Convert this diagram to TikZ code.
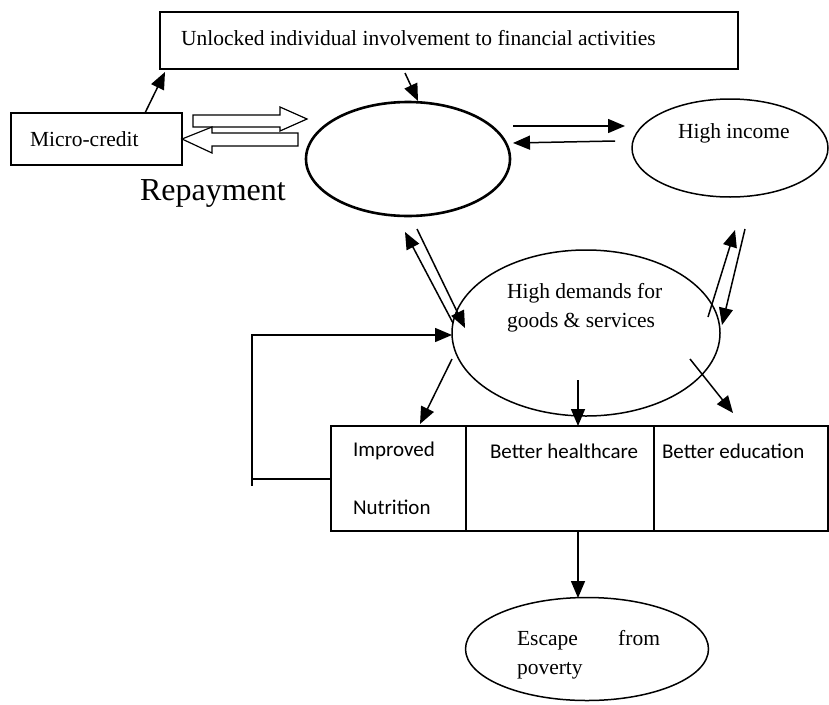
\documentclass[tikz,border=0pt]{standalone}
\usepackage{fontspec}
\setmainfont{Liberation Serif}
\newfontfamily\boxfont{Carlito}
\usetikzlibrary{shapes.geometric,arrows.meta,calc}

\begin{document}
\begin{tikzpicture}[x=1pt,y=-1pt,
  line width=1.5pt,
  every node/.style={inner sep=0pt, outer sep=0pt},
  arr/.style={-{Triangle[length=17pt,width=14pt]}},
  txt/.style={font=\fontsize{21.5}{29}\selectfont, align=left},
  cell/.style={draw, line width=1.5pt, anchor=north west, minimum height=105pt},
  celltxt/.style={font=\boxfont\fontsize{21}{24}\selectfont, anchor=west},
  oval/.style={draw, ellipse, line width=1.5pt}]
\useasboundingbox (0,0) rectangle (829,704);

% boxes
\node[draw, anchor=north west, minimum width=578pt, minimum height=57pt] (top) at (160,12) {};
\node[txt, anchor=west] at (181,38) {Unlocked individual involvement to financial activities};
\node[draw, anchor=north west, minimum width=171pt, minimum height=52pt] (mc) at (11,113) {};
\node[txt, anchor=west] at (30,139) {Micro-credit};

% ovals
\node[oval, line width=2.6pt, minimum width=204pt, minimum height=114pt] (mid) at (408,159) {};
\node[oval, minimum width=196pt, minimum height=98pt] (inc) at (730,148) {};
\node[txt, anchor=west] at (678,133) {High income};
\node[oval, minimum width=268pt, minimum height=166pt] (dem) at (586,333) {};
\node[txt, anchor=west] at (507,308) {High demands for\\goods \& services};
\node[oval, minimum width=243pt, minimum height=103pt] (esc) at (587,649) {};
\node[txt, anchor=west] at (517,655) {\makebox[143pt][l]{Escape\hfill from}\\poverty};

\node[font=\fontsize{32}{34}\selectfont, anchor=west] (rep) at (140,193) {Repayment};

% outcome cells
\node[cell, minimum width=135pt] (nut) at (331,426) {};
\node[cell, minimum width=188pt] (hc) at (466,426) {};
\node[cell, minimum width=174pt] (edu) at (654,426) {};
\node[celltxt] at (353,451) {Improved};
\node[celltxt] at (353,507) {Nutrition};
\node[celltxt] at (490,451) {Better healthcare};
\node[celltxt] at (662,451) {Better education};

% connector end points
\coordinate (mcA) at (145,113);
\coordinate (topA) at (165,72);
\coordinate (topB) at (405,73);
\coordinate (midB) at (418,101);
\coordinate (m1) at (513,126);  \coordinate (i1) at (625,126);
\coordinate (i2) at (615,141);  \coordinate (m2) at (513,143);
\coordinate (d1) at (453,323);  \coordinate (m3) at (405,232);
\coordinate (m4) at (417,229);  \coordinate (d2) at (465,328);
\coordinate (d3) at (708,317);  \coordinate (i3) at (735,230);
\coordinate (i4) at (745,229);  \coordinate (d4) at (722,325);
\coordinate (d5) at (452,359);  \coordinate (n1) at (420,424);
\coordinate (d6) at (578,380);  \coordinate (h1) at (578,426);
\coordinate (d7) at (690,359);  \coordinate (e1) at (733,413);
\coordinate (h2) at (578,531);  \coordinate (e2) at (578,598);
\coordinate (fbA) at (331,479);
\coordinate (fbB) at (252,479);
\coordinate (fbC) at (252,335);
\coordinate (fbD) at (452,335);

\draw[arr] (mcA) -- (topA);
\draw[arr] (topB) -- (midB);
\draw[arr] (m1) -- (i1);
\draw[arr] (i2) -- (m2);
\draw[arr] (d1) -- (m3);
\draw[arr] (m4) -- (d2);
\draw[arr] (d3) -- (i3);
\draw[arr] (i4) -- (d4);
\draw[arr] (d5) -- (n1);
\draw[arr] (d6) -- (h1);
\draw[arr] (d7) -- (e1);
\draw[arr] (h2) -- (e2);
\draw[arr] (fbA) -- (fbB) -- (fbC) -- (fbD);
\draw (fbB) -- ++(0,7);

% hollow block arrows between micro-credit and the centre oval
\draw[line width=1.2pt] (193,115) -- (280,115) -- (280,107) -- (307,119) -- (280,131) -- (280,127) -- (193,127) -- cycle;
\draw[line width=1.2pt, fill=white] (298,133) -- (212,133) -- (212,127) -- (182,139) -- (212,153) -- (212,146) -- (298,146) -- cycle;
\end{tikzpicture}
\end{document}
